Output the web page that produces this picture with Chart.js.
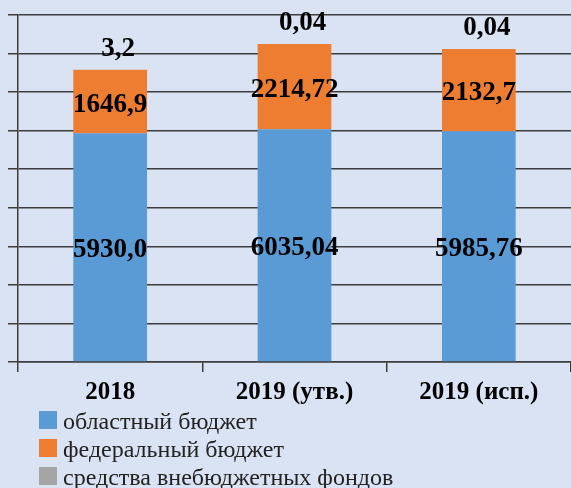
<!DOCTYPE html>
<html>
<head>
<meta charset="utf-8">
<script src="https://cdn.jsdelivr.net/npm/chart.js@4.4.1/dist/chart.umd.min.js"></script>
<style>
html, body { margin: 0; padding: 0; background: #dae3f3; }
#wrap { width: 571px; height: 488px; }
</style>
</head>
<body>
<div id="wrap"><canvas id="budgetChart"></canvas></div>
<script>
const categories = ["2018", "2019 (утв.)", "2019 (исп.)"];

const regionalValues = [5930.0, 6035.04, 5985.76];
const federalValues = [1646.9, 2214.72, 2132.7];
const offBudgetValues = [3.2, 0.04, 0.04];

const regionalText = ["5930,0", "6035,04", "5985,76"];
const federalText = ["1646,9", "2214,72", "2132,7"];
const offBudgetText = ["3,2", "0,04", "0,04"];

const seriesNames = [
    "областный бюджет",
    "федеральный бюджет",
    "средства внебюджетных фондов"
];

const yMax = 9000;
const yStep = 1000;

const lineColor = "#3c3c3c";

// value labels: inside segments, the last series above the bar
const valueLabels = {
    id: "valueLabels",
    afterDatasetsDraw(chart) {
        const ctx = chart.ctx;
        ctx.save();
        ctx.font = "bold 27px 'Liberation Serif'";
        ctx.fillStyle = "#000";
        ctx.textAlign = "center";
        ctx.textBaseline = "middle";
        chart.data.datasets.forEach((ds, i) => {
            const meta = chart.getDatasetMeta(i);
            meta.data.forEach((bar, j) => {
                if (ds.labelAbove) {
                    ctx.fillText(ds.valueText[j], bar.x + 8, bar.y - 21);
                } else {
                    ctx.fillText(ds.valueText[j], bar.x, (bar.y + bar.base) / 2 + 3);
                }
            });
        });
        ctx.restore();
    }
};

// legend as a vertical list under the axis
const listLegend = {
    id: "listLegend",
    afterDraw(chart) {
        const ctx = chart.ctx;
        const top = chart.scales.x.bottom;
        ctx.save();
        ctx.font = "24px 'Liberation Serif'";
        ctx.textBaseline = "alphabetic";
        ctx.textAlign = "left";
        chart.data.datasets.forEach((ds, i) => {
            const y = top + 6 + i * 28;
            ctx.fillStyle = ds.backgroundColor;
            ctx.fillRect(39, y - 9, 18, 18);
            ctx.fillStyle = "#222";
            ctx.fillText(ds.label, 63, y + 9);
        });
        ctx.restore();
    }
};

new Chart(document.getElementById("budgetChart"), {
    type: "bar",
    data: {
        labels: categories,
        datasets: [
            {
                label: seriesNames[0],
                data: regionalValues,
                valueText: regionalText,
                backgroundColor: "#5b9bd5"
            },
            {
                label: seriesNames[1],
                data: federalValues,
                valueText: federalText,
                backgroundColor: "#ed7d31"
            },
            {
                label: seriesNames[2],
                data: offBudgetValues,
                valueText: offBudgetText,
                labelAbove: true,
                backgroundColor: "#a5a5a5"
            }
        ]
    },
    options: {
        responsive: true,
        maintainAspectRatio: false,
        animation: false,
        layout: {
            padding: { left: 8, top: 15, right: 0, bottom: 74 }
        },
        datasets: {
            bar: {
                barPercentage: 0.5,
                categoryPercentage: 0.8
            }
        },
        plugins: {
            legend: { display: false },
            tooltip: { enabled: false }
        },
        scales: {
            x: {
                stacked: true,
                grid: {
                    drawOnChartArea: false,
                    tickLength: 10,
                    color: lineColor,
                    lineWidth: 1.5
                },
                border: { color: lineColor, width: 1.5 },
                ticks: {
                    color: "#000",
                    padding: 6,
                    font: { family: "'Liberation Serif'", size: 25, weight: "bold" }
                }
            },
            y: {
                stacked: true,
                min: 0,
                max: yMax,
                ticks: { stepSize: yStep, display: false },
                grid: {
                    tickLength: 10,
                    color: lineColor,
                    lineWidth: 1.5
                },
                border: { color: lineColor, width: 1.5 }
            }
        }
    },
    plugins: [valueLabels, listLegend]
});
</script>
</body>
</html>
